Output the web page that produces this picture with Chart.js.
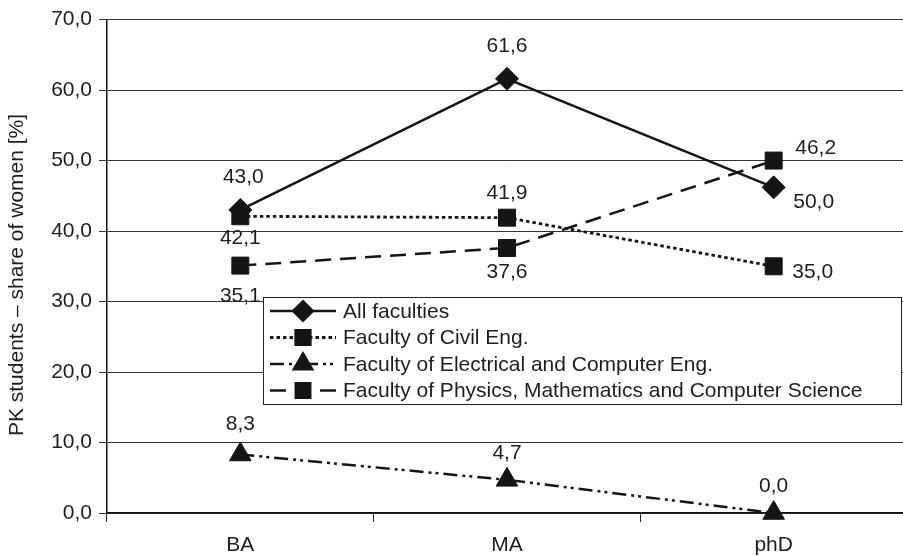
<!DOCTYPE html>
<html>
<head>
<meta charset="utf-8">
<script src="https://cdn.jsdelivr.net/npm/chart.js@4.4.1/dist/chart.umd.min.js"></script>
<style>
  html, body { margin: 0; padding: 0; background: #fff; overflow: hidden; width: 903px; height: 556px; }
  #c { display: block; }
</style>
</head>
<body>
<canvas id="c" width="910" height="556"></canvas>
<script>
// Share of women among PK students by study level
const categories = ['BA', 'MA', 'phD'];
const allFaculties = [43.0, 61.6, 46.2];
const civilEng = [42.1, 41.9, 35.0];
const electricalEng = [8.3, 4.7, 0.0];
const physicsMath = [35.1, 37.6, 50.0];

const seriesNames = [
  'All faculties',
  'Faculty of Civil Eng.',
  'Faculty of Electrical and Computer Eng.',
  'Faculty of Physics, Mathematics and Computer Science'
];
const axisTitle = 'PK students – share of women [%]';

// value-label placement relative to each point (dx, dy in px)
const labelOffsets = [
  [[3, -33], [0, -33], [42, -39]],
  [[0, 22], [0, -24], [39, 6]],
  [[0, -30], [0, -27], [0, -27]],
  [[0, 31], [0, 24], [40, 42]]
];

const INK = '#151515';
const TEXT = '#1e1e1e';
const FONT = '"Liberation Sans", Arial, sans-serif';
const fmt = v => Number(v).toFixed(1).replace('.', ',');

function series(label, data, style, radius, dash, width) {
  return {
    label, data,
    borderColor: INK, backgroundColor: INK,
    borderWidth: width, borderDash: dash,
    pointStyle: style, pointRadius: radius, pointHoverRadius: radius,
    pointBackgroundColor: INK, pointBorderColor: INK, pointBorderWidth: 1,
    tension: 0, fill: false, clip: false
  };
}

const datasets = [
  series(seriesNames[1], civilEng, 'rect', 12, [3.5, 3], 2.8),
  series(seriesNames[3], physicsMath, 'rect', 12, [16, 9], 2.5),
  series(seriesNames[2], electricalEng, 'triangle', 12.5, [14, 5, 3, 4, 3, 5], 2.5),
  series(seriesNames[0], allFaculties, 'rectRot', 11.5, [], 2.5)
];
// position of each dataset in seriesNames / labelOffsets order
const seriesIndex = [1, 3, 2, 0];

const valueLabels = {
  id: 'valueLabels',
  afterDatasetsDraw(chart) {
    const ctx = chart.ctx;
    ctx.save();
    ctx.font = '21px ' + FONT;
    ctx.fillStyle = TEXT;
    ctx.textAlign = 'center';
    ctx.textBaseline = 'middle';
    chart.data.datasets.forEach((ds, di) => {
      const meta = chart.getDatasetMeta(di);
      const offs = labelOffsets[seriesIndex[di]];
      meta.data.forEach((pt, i) => {
        const [dx, dy] = offs[i];
        ctx.fillText(fmt(ds.data[i]), pt.x + dx, pt.y + dy);
      });
    });
    // rotated y-axis title
    ctx.translate(17, 275);
    ctx.rotate(-Math.PI / 2);
    ctx.fillText(axisTitle, 0, 0);
    ctx.restore();
  }
};

const boxLegend = {
  id: 'boxLegend',
  afterDraw(chart) {
    const ctx = chart.ctx;
    const box = { x: 263.5, y: 297.5, w: 638, h: 107 };
    ctx.save();
    ctx.fillStyle = '#fff';
    ctx.fillRect(box.x, box.y, box.w, box.h);
    ctx.strokeStyle = '#222';
    ctx.lineWidth = 1;
    ctx.strokeRect(box.x, box.y, box.w, box.h);
    const rows = [311, 337.5, 364, 390.5];
    const order = [3, 0, 2, 1]; // dataset index for each legend row
    ctx.font = '21px ' + FONT;
    ctx.textBaseline = 'middle';
    order.forEach((di, r) => {
      const ds = chart.data.datasets[di];
      const y = rows[r];
      ctx.save();
      ctx.strokeStyle = INK;
      ctx.lineWidth = ds.borderWidth;
      ctx.setLineDash(ds.borderDash);
      ctx.beginPath();
      ctx.moveTo(270, y);
      ctx.lineTo(336, y);
      ctx.stroke();
      ctx.setLineDash([]);
      ctx.fillStyle = INK;
      Chart.helpers.drawPoint(ctx, {
        pointStyle: ds.pointStyle, radius: ds.pointRadius * 0.85,
        rotation: 0, borderWidth: 1
      }, 303, y);
      ctx.restore();
      ctx.fillStyle = TEXT;
      ctx.fillText(ds.label, 343, y + 1);
    });
    ctx.restore();
  }
};

new Chart(document.getElementById('c'), {
  type: 'line',
  data: { labels: categories, datasets },
  options: {
    responsive: false,
    animation: false,
    events: [],
    devicePixelRatio: 1,
    // plot area spans x 107..907 (the last few px fall off the page)
    layout: { autoPadding: false, padding: { top: 19, right: 3, bottom: 0, left: 0 } },
    plugins: { legend: { display: false }, tooltip: { enabled: false } },
    scales: {
      x: {
        offset: true,
        grid: {
          offset: true, drawOnChartArea: false, drawTicks: true,
          tickLength: 9, color: '#222', lineWidth: 1
        },
        border: { color: '#111', width: 1.5 },
        ticks: { color: TEXT, font: { family: FONT, size: 21 }, padding: 11 },
        afterFit(scale) {
          scale.height = 43;
          scale.paddingLeft = 0;
          scale.paddingRight = 0;
        }
      },
      y: {
        min: 0, max: 70,
        grid: { color: '#333', lineWidth: 1, tickLength: 8, drawTicks: true },
        border: { color: '#111', width: 1.5 },
        ticks: {
          stepSize: 10, color: TEXT, padding: 7,
          font: { family: FONT, size: 21 },
          callback: v => fmt(v)
        },
        afterFit(scale) { scale.width = 107; }
      }
    }
  },
  plugins: [valueLabels, boxLegend]
});
</script>
</body>
</html>
